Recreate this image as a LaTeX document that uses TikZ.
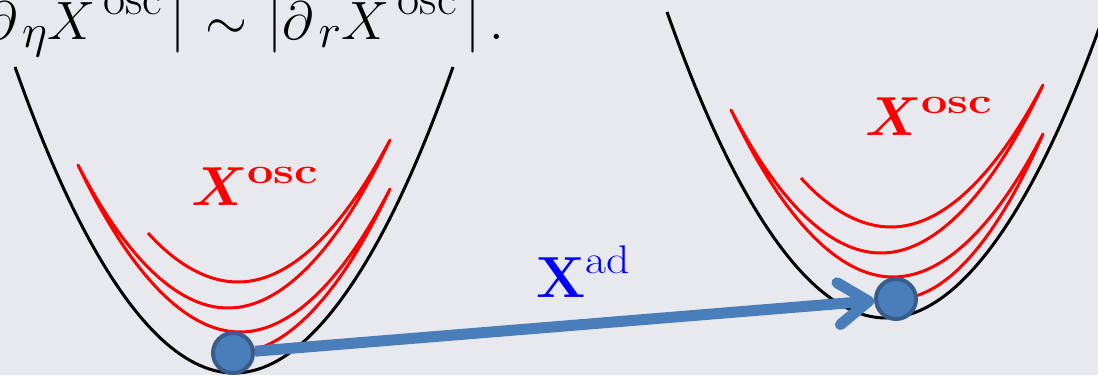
\RequirePackage{fix-cm}
\documentclass[tikz,border=0pt]{standalone}
\usepackage{amsmath,bm}
\usepackage{graphicx}
\usetikzlibrary{arrows.meta}
\DeclareMathSizes{54}{54}{48}{40}
\definecolor{bgcol}{HTML}{E8E9EE}
\definecolor{ballblue}{HTML}{4A7EBB}
\definecolor{balledge}{HTML}{385D8A}
\tikzset{
  well/.style={line width=3pt, black},
  osc/.style={line width=3pt, red, line join=round},
  ball/.style={circle, fill=ballblue, draw=balledge, line width=4pt, minimum size=40pt, inner sep=0pt},
  adarrow/.style={line width=11pt, ballblue, -{Straight Barb[length=30pt,width=42pt,round]}},
  osclabel/.style={red, inner sep=0pt, anchor=base west, font=\fontsize{55}{55}\selectfont},
  adlabel/.style={blue, inner sep=0pt, anchor=base west, font=\fontsize{58}{58}\selectfont},
}
\newcommand{\eqsup}{\,\text{\raisebox{5pt}{osc}}\,}
\newcommand{\oscsup}{\raisebox{22pt}{\scalebox{1.3}[1]{\fontsize{36}{36}\selectfont\bfseries osc}}}
\newcommand{\adsup}{\raisebox{24pt}{\scalebox{1.14}[1]{\fontsize{40}{40}\selectfont ad}}}
\begin{document}
\begin{tikzpicture}[x=1pt,y=-1pt]
  \clip (0,0) rectangle (1098,375);
  \fill[bgcol] (0,0) rectangle (1098,375);
  % equation, cut at the top and left
  \node[anchor=base east, inner sep=0pt, font=\fontsize{54}{54}\selectfont] (eqn) at (504,39)
    {$|\partial_{\,\eta} X^{\eqsup}| \kern5pt\sim\kern5pt |\partial_{\,r} X^{\eqsup}|\,.$};
  % left well
  \draw[well] (15,67) parabola bend (234,373) (453,67);
  \draw[osc] (148,233) parabola bend (238,282) (390,140) parabola bend (228,308) (78,165)
    parabola bend (240,332) (390,189) parabola[bend at end] (233,353);
  % right well
  \draw[well] (667,12) parabola bend (886,318) (1105,12);
  \draw[osc] (801,178) parabola bend (891,227) (1043,85) parabola bend (881,253) (731,110)
    parabola bend (893,277) (1043,134) parabola[bend at end] (896,299);
  % labels
  \node[osclabel] (oscL) at (191,205) {$\bm{X}$\oscsup};
  \node[osclabel] (oscR) at (865,135) {$\bm{X}$\oscsup};
  % balls and the adiabatic shift
  \node[ball] (ballL) at (233,353) {};
  \node[ball] (ballR) at (896,299) {};
  \draw[adarrow] (ballL) -- (ballR);
  \node[adlabel] (ad) at (536,297) {$\mathbf{X}$\adsup};
\end{tikzpicture}
\end{document}
